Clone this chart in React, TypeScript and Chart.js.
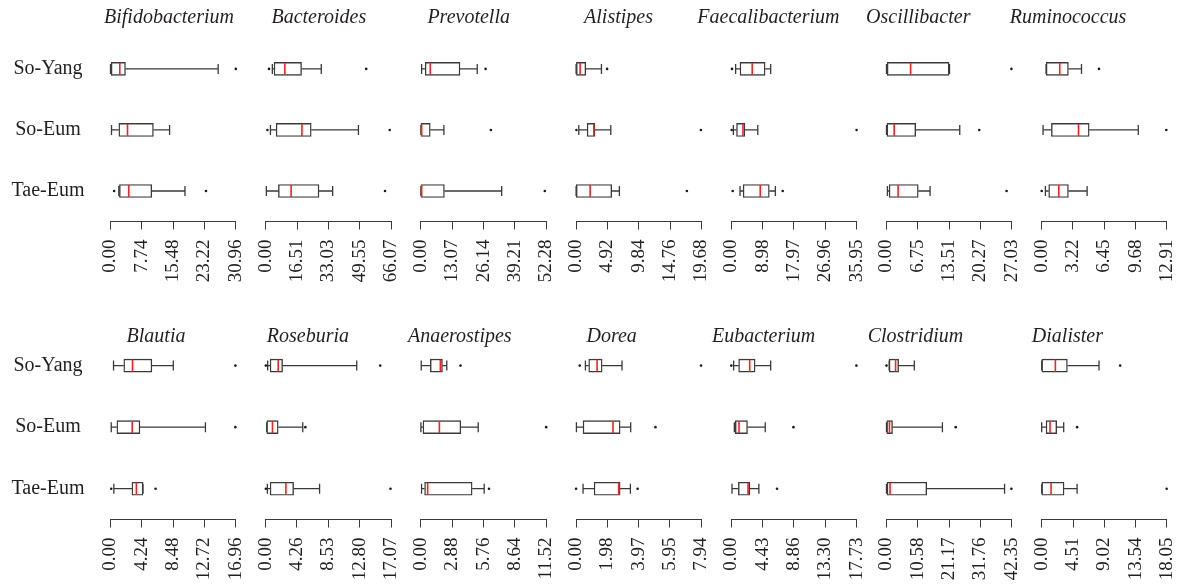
import React, { useEffect, useRef } from 'react';
import { Chart, registerables } from 'chart.js';

Chart.register(...registerables);

const FONT = "'Liberation Serif', 'Times New Roman', serif";
const TEXT = '#231f20';
const LINE = '#3a3a3a';
const RED = '#ff1f1f';

// ---------- data ----------
const groups = ['So-Yang', 'So-Eum', 'Tae-Eum'];

const genera = [
  'Bifidobacterium', 'Bacteroides', 'Prevotella', 'Alistipes', 'Faecalibacterium', 'Oscillibacter', 'Ruminococcus',
  'Blautia', 'Roseburia', 'Anaerostipes', 'Dorea', 'Eubacterium', 'Clostridium', 'Dialister',
];

const tickLabels = [
  ['0.00', '7.74', '15.48', '23.22', '30.96'],
  ['0.00', '16.51', '33.03', '49.55', '66.07'],
  ['0.00', '13.07', '26.14', '39.21', '52.28'],
  ['0.00', '4.92', '9.84', '14.76', '19.68'],
  ['0.00', '8.98', '17.97', '26.96', '35.95'],
  ['0.00', '6.75', '13.51', '20.27', '27.03'],
  ['0.00', '3.22', '6.45', '9.68', '12.91'],
  ['0.00', '4.24', '8.48', '12.72', '16.96'],
  ['0.00', '4.26', '8.53', '12.80', '17.07'],
  ['0.00', '2.88', '5.76', '8.64', '11.52'],
  ['0.00', '1.98', '3.97', '5.95', '7.94'],
  ['0.00', '4.43', '8.86', '13.30', '17.73'],
  ['0.00', '10.58', '21.17', '31.76', '42.35'],
  ['0.00', '4.51', '9.02', '13.54', '18.05'],
];

// box stats per group: [whisker min, Q1, median, Q3, whisker max]
const bifidobacteriumStats = [[0, 0.17, 2.3, 3.7, 26.6], [0.25, 2.07, 4.2, 10.6, 14.6], [2.05, 2.2, 4.5, 10.2, 18.4]];
const bifidobacteriumOutliers = [[30.96], [], [0.9, 23.6]];

const bacteroidesStats = [[3.5, 4.4, 10.1, 18.9, 29.3], [2.5, 5.5, 19.1, 24.0, 48.9], [0.35, 6.7, 13.4, 28.1, 35.3]];
const bacteroidesOutliers = [[1.75, 53.0], [0.9, 65.4], [62.9]];

const prevotellaStats = [[0.3, 1.8, 3.9, 16.3, 23.5], [0, 0.05, 0.3, 3.9, 9.6], [0, 0.05, 0.3, 9.8, 33.7]];
const prevotellaOutliers = [[27.0], [29.2], [51.7]];

const alistipesStats = [[0, 0.05, 0.63, 1.52, 3.98], [0.42, 1.73, 2.78, 2.94, 5.45], [0, 0.03, 2.2, 5.6, 6.8]];
const alistipesOutliers = [[4.87], [0.05, 19.6], [17.4]];

const faecalibacteriumStats = [[1.24, 2.5, 6.0, 9.7, 11.3], [0.6, 1.5, 3.35, 3.9, 7.6], [2.5, 3.4, 8.3, 10.9, 12.65]];
const faecalibacteriumOutliers = [[0.2], [0.1, 35.95], [0.4, 14.75]];

const oscillibacterStats = [[0, 0.15, 5.2, 13.5, 13.6], [0, 0.1, 1.65, 6.3, 15.8], [0.2, 0.57, 2.5, 6.85, 9.4]];
const oscillibacterOutliers = [[26.95], [20.0], [25.9]];

const ruminococcusStats = [[0.45, 0.46, 1.86, 2.75, 4.1], [0.14, 1.0, 3.79, 4.89, 9.95], [0.38, 0.72, 1.76, 2.75, 4.68]];
const ruminococcusOutliers = [[5.9], [12.84], [0.0]];

const blautiaStats = [[0.41, 1.8, 2.98, 5.6, 8.5], [0.1, 0.86, 2.94, 3.98, 12.85], [0.45, 2.9, 3.5, 4.4, 4.4]];
const blautiaOutliers = [[16.9], [16.9], [0.1, 6.1]];

const roseburiaStats = [[0.27, 0.6, 1.7, 2.3, 12.4], [0.14, 0.15, 0.92, 1.7, 5.05], [0.23, 0.6, 2.75, 3.8, 7.34]];
const roseburiaOutliers = [[0.02, 15.6], [5.4], [0.02, 17.0]];

const anaerostipesStats = [[0.03, 0.87, 1.79, 1.98, 2.38], [0, 0.19, 1.7, 3.67, 5.27], [0.06, 0.34, 0.62, 4.71, 5.82]];
const anaerostipesOutliers = [[3.64], [11.52], [6.26]];

const doreaStats = [[0.59, 0.8, 1.33, 1.65, 2.91], [0.02, 0.44, 2.34, 2.79, 3.46], [0.44, 1.14, 2.7, 2.79, 3.44]];
const doreaOutliers = [[0.23, 7.92], [5.03], [0.0, 3.9]];

const eubacteriumStats = [[0.33, 1.04, 2.6, 3.37, 5.57], [0.43, 0.57, 1.09, 2.29, 4.8], [0.1, 1.0, 2.37, 2.6, 3.9]];
const eubacteriumOutliers = [[0.0, 17.7], [8.8], [6.47]];

const clostridiumStats = [[0.9, 0.9, 3.07, 4.1, 9.4], [0, 0.1, 1.0, 2.04, 18.9], [0, 0.2, 1.2, 13.6, 39.9]];
const clostridiumOutliers = [[0.0], [23.4], [42.2]];

const dialisterStats = [[0, 0.02, 1.97, 3.7, 8.26], [0, 0.63, 1.2, 2.16, 3.17], [0, 0.02, 1.35, 3.22, 5.1]];
const dialisterOutliers = [[11.3], [5.1], [18.0]];

const statsByGenus = [
  bifidobacteriumStats, bacteroidesStats, prevotellaStats, alistipesStats, faecalibacteriumStats, oscillibacterStats, ruminococcusStats,
  blautiaStats, roseburiaStats, anaerostipesStats, doreaStats, eubacteriumStats, clostridiumStats, dialisterStats,
];
const outliersByGenus = [
  bifidobacteriumOutliers, bacteroidesOutliers, prevotellaOutliers, alistipesOutliers, faecalibacteriumOutliers, oscillibacterOutliers, ruminococcusOutliers,
  blautiaOutliers, roseburiaOutliers, anaerostipesOutliers, doreaOutliers, eubacteriumOutliers, clostridiumOutliers, dialisterOutliers,
];

// ---------- layout ----------
const AXIS_LEFT0 = 110.5;
const AXIS_STEP = 155.2;
const AXIS_W = 125.3;
const ROWS = [
  { top: 0, height: 300, areaTop: 38.4, areaBottom: 221.5, titleTop: 3.9, titleX0: 169, titleStep: 149.85 },
  { top: 295, height: 290, areaTop: 39.8, areaBottom: 224.5, titleTop: 322.9, titleX0: 156, titleStep: 151.9 },
];

function whiskerPlugin(stats: number[][]) {
  return {
    id: 'whiskers',
    beforeDatasetsDraw(chart: any) {
      const { ctx, scales } = chart;
      const x = scales.x;
      const y = scales.y;
      ctx.save();
      ctx.strokeStyle = LINE;
      ctx.lineWidth = 1.3;
      stats.forEach((s, i) => {
        const yc = y.getPixelForValue(i);
        const [mn, q1, , q3, mx] = s;
        const p = (v: number) => x.getPixelForValue(v);
        ctx.beginPath();
        ctx.moveTo(p(mn), yc);
        ctx.lineTo(p(q1), yc);
        ctx.moveTo(p(q3), yc);
        ctx.lineTo(p(mx), yc);
        ctx.moveTo(p(mn), yc - 5);
        ctx.lineTo(p(mn), yc + 5);
        ctx.moveTo(p(mx), yc - 5);
        ctx.lineTo(p(mx), yc + 5);
        ctx.stroke();
      });
      ctx.restore();
    },
  };
}

function Panel({ g }: { g: number }) {
  const ref = useRef<HTMLCanvasElement>(null);
  const row = g < 7 ? 0 : 1;
  const col = g % 7;
  const R = ROWS[row];
  const axisLeft = AXIS_LEFT0 + AXIS_STEP * col;
  const canvasLeft = col === 0 ? 0 : Math.floor(axisLeft - 16);
  const canvasWidth = col === 0 ? 252 : 158;
  const padLeft = col === 0 ? 0 : axisLeft - canvasLeft;
  const padRight = canvasWidth - (axisLeft - canvasLeft) - AXIS_W;
  const xHeight = R.height - R.areaBottom;

  useEffect(() => {
    const stats = statsByGenus[g];
    const outs = outliersByGenus[g];
    const labels = tickLabels[g];
    const tickVals = labels.map(Number);
    const medians = stats.map((s, i) => ({ x: s[2], y: groups[i] }));
    const outPts: { x: number; y: string }[] = [];
    outs.forEach((list, i) => list.forEach((v) => outPts.push({ x: v, y: groups[i] })));

    const chart = new Chart(ref.current as HTMLCanvasElement, {
      type: 'bar',
      data: {
        labels: groups,
        datasets: [
          {
            type: 'scatter',
            data: medians,
            pointStyle: 'line',
            pointRadius: 6,
            pointHoverRadius: 6,
            pointRotation: 90,
            pointBorderColor: RED,
            pointBorderWidth: 1.6,
            clip: false,
            order: 0,
          } as any,
          {
            type: 'scatter',
            data: outPts,
            pointStyle: 'circle',
            pointRadius: 1.3,
            pointHoverRadius: 1.3,
            pointBackgroundColor: '#1a1a1a',
            pointBorderWidth: 0,
            clip: false,
            order: 1,
          } as any,
          {
            type: 'bar',
            data: stats.map((s) => [s[1], s[3]]),
            backgroundColor: '#ffffff',
            borderColor: LINE,
            borderWidth: 1.4,
            borderSkipped: false,
            barThickness: 13,
            clip: false,
            order: 2,
          } as any,
        ],
      },
      options: {
        indexAxis: 'y',
        animation: false,
        responsive: false,
        events: [],
        layout: { padding: { left: padLeft, right: padRight, top: R.areaTop, bottom: 0 } },
        plugins: { legend: { display: false }, tooltip: { enabled: false }, title: { display: false } },
        scales: {
          x: {
            type: 'linear',
            position: 'bottom',
            min: 0,
            max: tickVals[tickVals.length - 1],
            afterBuildTicks: (s: any) => {
              s.ticks = tickVals.map((v) => ({ value: v }));
            },
            afterFit: (s: any) => {
              s.height = xHeight;
              s.paddingLeft = 0;
              s.paddingRight = 0;
            },
            ticks: {
              autoSkip: false,
              minRotation: 90,
              maxRotation: 90,
              padding: 10,
              color: TEXT,
              font: { family: FONT, size: 19 },
              callback: (_v: any, i: number) => labels[i],
            },
            grid: { drawOnChartArea: false, drawTicks: true, tickLength: 8, color: LINE, lineWidth: 1 },
            border: { display: true, color: LINE, width: 1 },
          },
          y: {
            type: 'category',
            offset: true,
            display: col === 0,
            afterFit: (s: any) => {
              s.width = col === 0 ? AXIS_LEFT0 : 0;
            },
            ticks: {
              crossAlign: 'center',
              padding: 26,
              color: TEXT,
              font: { family: FONT, size: 20 },
            },
            grid: { display: false, drawTicks: false },
            border: { display: false },
          },
        },
      } as any,
      plugins: [whiskerPlugin(stats)],
    });
    return () => chart.destroy();
  }, []);

  return (
    <div style={{ position: 'absolute', left: canvasLeft, top: R.top, width: canvasWidth, height: R.height }}>
      <canvas ref={ref} width={canvasWidth} height={R.height} style={{ display: 'block' }} />
    </div>
  );
}

function Title({ g }: { g: number }) {
  const row = g < 7 ? 0 : 1;
  const col = g % 7;
  const R = ROWS[row];
  const cx = R.titleX0 + R.titleStep * col;
  return (
    <div
      style={{
        position: 'absolute',
        left: cx - 100,
        width: 200,
        top: R.titleTop,
        textAlign: 'center',
        fontFamily: FONT,
        fontStyle: 'italic',
        fontSize: 20,
        lineHeight: '24px',
        color: TEXT,
        whiteSpace: 'nowrap',
      }}
    >
      {genera[g]}
    </div>
  );
}

export default function App() {
  return (
    <div style={{ position: 'absolute', left: 0, top: 0, width: 1183, height: 585, background: '#ffffff', overflow: 'hidden' }}>
      {genera.map((_, g) => (
        <Panel key={'p' + g} g={g} />
      ))}
      {genera.map((_, g) => (
        <Title key={'t' + g} g={g} />
      ))}
    </div>
  );
}
